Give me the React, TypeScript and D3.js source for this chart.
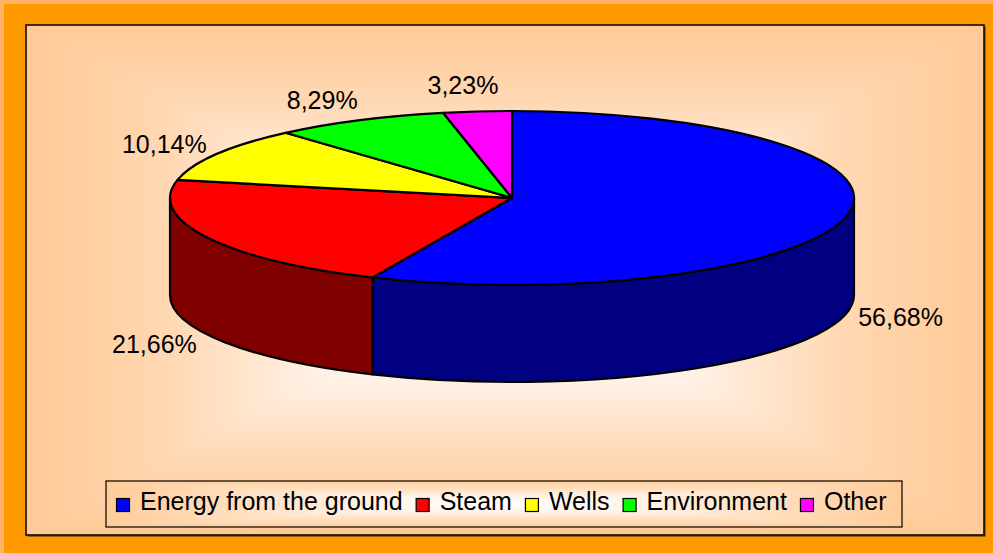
import React, { useEffect, useRef } from 'react';
import * as d3 from 'd3';

const categories = ['Energy from the ground', 'Steam', 'Wells', 'Environment', 'Other'];
const values = [56.68, 21.66, 10.14, 8.29, 3.23];
const valueLabels = ['56,68%', '21,66%', '10,14%', '8,29%', '3,23%'];
const topColors = ['#0000FF', '#FF0000', '#FFFF00', '#00FF00', '#FF00FF'];
const sideColors = ['#000080', '#800000', '#808000', '#008000', '#800080'];

const W = 993;
const H = 553;
const FONT = '"Liberation Sans", Arial, Helvetica, sans-serif';
const plot = { x: 26, y: 25, w: 958, h: 510 };
const pieGeom = { cx: 512, cy: 198, rx: 342, ry: 87, depth: 97 };
const legendBox = { x: 106, y: 481, w: 796, h: 46 };

type Stop = [number, string];

function rectGradient(
  defs: d3.Selection<SVGDefsElement, unknown, null, undefined>,
  g: d3.Selection<SVGGElement, unknown, null, undefined>,
  id: string,
  x: number, y: number, w: number, h: number,
  stops: Stop[]
) {
  const cx = x + w / 2;
  const cy = y + h / 2;
  const parts = [
    { key: 't', pts: [[x, y], [x + w, y], [cx, cy]], g: [0, y, 0, cy] },
    { key: 'b', pts: [[x, y + h], [x + w, y + h], [cx, cy]], g: [0, y + h, 0, cy] },
    { key: 'l', pts: [[x, y], [x, y + h], [cx, cy]], g: [x, 0, cx, 0] },
    { key: 'r', pts: [[x + w, y], [x + w, y + h], [cx, cy]], g: [x + w, 0, cx, 0] },
  ];
  parts.forEach((p) => {
    const gid = `${id}-${p.key}`;
    const lg = defs.append('linearGradient')
      .attr('id', gid)
      .attr('gradientUnits', 'userSpaceOnUse')
      .attr('x1', p.g[0]).attr('y1', p.g[1]).attr('x2', p.g[2]).attr('y2', p.g[3]);
    stops.forEach(([o, c]) => lg.append('stop').attr('offset', o).attr('stop-color', c));
    g.append('path')
      .attr('d', `M${p.pts.map((q) => q.join(',')).join('L')}Z`)
      .attr('fill', `url(#${gid})`)
      .attr('stroke', `url(#${gid})`)
      .attr('stroke-width', 0.8);
  });
}

export default function App() {
  const ref = useRef<SVGSVGElement>(null);

  useEffect(() => {
    const svg = d3.select(ref.current as SVGSVGElement);
    svg.selectAll('*').remove();
    const defs = svg.append('defs');

    // outer frame
    svg.append('rect').attr('x', 0).attr('y', 0).attr('width', W).attr('height', H).attr('fill', '#FFB366');
    svg.append('rect').attr('x', 4).attr('y', 4).attr('width', W - 4).attr('height', H - 4).attr('fill', '#FF9900');

    // plot area with rectangular "from centre" gradient
    svg.append('rect')
      .attr('x', plot.x + 1.5).attr('y', plot.y + 1.5).attr('width', plot.w).attr('height', plot.h)
      .attr('fill', '#3a2a10');
    const bg = svg.append('g');
    rectGradient(defs, bg, 'plotgrad', plot.x, plot.y, plot.w, plot.h,
      [[0, '#FFCA96'], [0.3, '#FFD8B3'], [0.62, '#FFF2E8'], [1, '#FFF8F2']]);
    svg.append('rect')
      .attr('x', plot.x).attr('y', plot.y).attr('width', plot.w).attr('height', plot.h)
      .attr('fill', 'none').attr('stroke', '#000').attr('stroke-width', 1.5);

    // pie
    const { cx, cy, rx, ry, depth } = pieGeom;
    const arcs = d3.pie<number>().sort(null).value((d) => d)(values);
    const pt = (a: number, dy = 0): [number, number] => [cx + rx * Math.sin(a), cy - ry * Math.cos(a) + dy];
    const f = (p: [number, number]) => `${p[0].toFixed(2)},${p[1].toFixed(2)}`;

    const pieG = svg.append('g');
    // front rim
    arcs.forEach((a, i) => {
      const s = Math.max(a.startAngle, Math.PI / 2);
      const e = Math.min(a.endAngle, (3 * Math.PI) / 2);
      if (s >= e) return;
      const large = e - s > Math.PI ? 1 : 0;
      const d = `M${f(pt(s))}A${rx},${ry} 0 ${large} 1 ${f(pt(e))}L${f(pt(e, depth))}A${rx},${ry} 0 ${large} 0 ${f(pt(s, depth))}Z`;
      pieG.append('path').attr('d', d).attr('fill', sideColors[i])
        .attr('stroke', '#000').attr('stroke-width', 2.2).attr('stroke-linejoin', 'round');
    });
    // top
    arcs.forEach((a, i) => {
      const large = a.endAngle - a.startAngle > Math.PI ? 1 : 0;
      const d = `M${cx},${cy}L${f(pt(a.startAngle))}A${rx},${ry} 0 ${large} 1 ${f(pt(a.endAngle))}Z`;
      pieG.append('path').attr('d', d).attr('fill', topColors[i])
        .attr('stroke', '#000').attr('stroke-width', 2.2).attr('stroke-linejoin', 'round');
    });

    // data labels
    const lblG = svg.append('g').attr('font-family', FONT).attr('font-size', 25).attr('fill', '#000');
    arcs.forEach((a, i) => {
      const m = (a.startAngle + a.endAngle) / 2;
      const p = pt(m);
      let dx = p[0] - cx;
      let dy = p[1] - cy;
      const len = Math.hypot(dx, dy) || 1;
      dx /= len; dy /= len;
      const front = Math.cos(m) < 0;
      const ax = cx + (rx + 12) * Math.sin(m);
      const ay = cy - (ry + 18) * Math.cos(m) + (front ? depth : 0);
      const t = lblG.append('text').attr('text-anchor', 'middle').text(valueLabels[i]);
      const w = (t.node() as SVGTextElement).getComputedTextLength();
      const ccx = ax + dx * (w / 2);
      const ccy = ay + dy * 9;
      t.attr('x', ccx).attr('y', ccy + 9);
    });

    // legend
    const lg = svg.append('g');
    rectGradient(defs, lg, 'leggrad', legendBox.x, legendBox.y, legendBox.w, legendBox.h,
      [[0, '#FFCC99'], [0.7, '#FFF4EA'], [1, '#FFFFFF']]);
    lg.append('rect')
      .attr('x', legendBox.x).attr('y', legendBox.y).attr('width', legendBox.w).attr('height', legendBox.h)
      .attr('fill', 'none').attr('stroke', '#000').attr('stroke-width', 1.2);
    let sx = legendBox.x + 10;
    categories.forEach((c, i) => {
      lg.append('rect').attr('x', sx + 0.5).attr('y', 498.5).attr('width', 13).attr('height', 13)
        .attr('fill', topColors[i]).attr('stroke', '#000').attr('stroke-width', 1.2);
      const t = lg.append('text').attr('x', sx + 24).attr('y', 510)
        .attr('font-family', FONT).attr('font-size', 25).attr('fill', '#000').text(c);
      const w = (t.node() as SVGTextElement).getComputedTextLength();
      sx = sx + 24 + w + 13;
    });
  }, []);

  return (
    <svg
      ref={ref}
      width={W}
      height={H}
      viewBox={`0 0 ${W} ${H}`}
      style={{ position: 'absolute', left: 0, top: 0, display: 'block' }}
    />
  );
}
